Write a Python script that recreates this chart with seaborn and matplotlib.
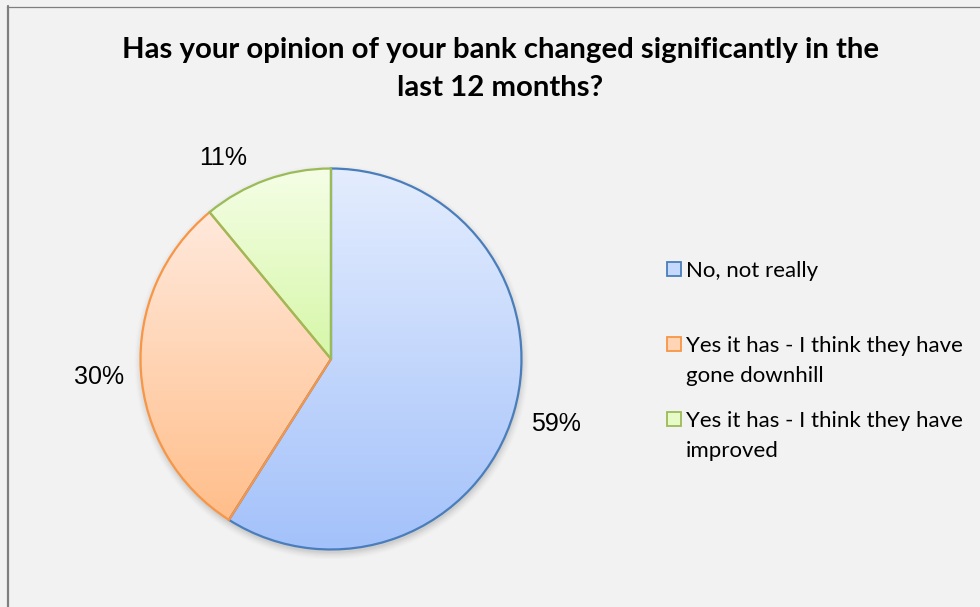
import numpy as np
import matplotlib
matplotlib.use("Agg")
import matplotlib.pyplot as plt
import seaborn as sns
from matplotlib.patches import Rectangle, Circle
from matplotlib.lines import Line2D
from matplotlib.colors import LinearSegmentedColormap

sns.set_theme(style="white")
plt.rcParams["font.family"] = ["Lato", "DejaVu Sans"]

# ---- data ----
categories = [
    "No, not really",
    "Yes it has - I think they have\ngone downhill",
    "Yes it has - I think they have\nimproved",
]
shares = [59, 30, 11]
pct_labels = ["59%", "30%", "11%"]

# ---- style ----
edge_colors = ["#4A7EBB", "#F79646", "#9BBB59"]
grad_top = ["#E4EDFE", "#FFE9DC", "#F5FEE6"]
grad_bottom = ["#A3C1FA", "#FFBE8A", "#D6F7A8"]
legend_fill = ["#C5D9FC", "#FFD5B5", "#E6FBC8"]
bg = "#F2F2F2"

W, H = 980, 607
fig = plt.figure(figsize=(W / 100, H / 100), dpi=100, facecolor=bg)


def fx(px):
    return px / W


def fy(py):
    return 1 - py / H


# chart frame (only the top and left edges fall inside the image)
fig.add_artist(Line2D([fx(7.5), fx(7.5)], [0, fy(6)], color="#7F7F7F", lw=1.6,
                      transform=fig.transFigure))
fig.add_artist(Line2D([fx(7), 1], [fy(6.5), fy(6.5)], color="#7F7F7F", lw=0.9,
                      transform=fig.transFigure))

# pie axes: centre (331, 359) px, radius ~190 px
cx, cy, side = 331, 359, 400
ax = fig.add_axes([fx(cx - side / 2), fy(cy + side / 2), side / W, side / H])
ax.set_facecolor("none")
ax.axis("off")

# soft drop shadow under the pie
for i, a in enumerate(np.linspace(0.05, 0.012, 7)):
    ax.add_patch(Circle((0.004, -0.018), 1.0 + 0.006 * i, color="#505050", alpha=a,
                        lw=0, zorder=0))

wedges, _ = ax.pie(shares, startangle=90, counterclock=False, radius=1.0,
                   colors=legend_fill,
                   wedgeprops=dict(linewidth=1.6, zorder=2))

for w, ec, top, bot in zip(wedges, edge_colors, grad_top, grad_bottom):
    w.set_edgecolor(ec)
    w.set_facecolor("none")
    w.set_zorder(3)
    # vertical gradient clipped to the wedge
    verts = w.get_patch_transform().transform(w.get_path().vertices)
    x0, x1 = verts[:, 0].min(), verts[:, 0].max()
    y0, y1 = verts[:, 1].min(), verts[:, 1].max()
    cmap = LinearSegmentedColormap.from_list("g", [bot, top])
    grad = np.linspace(0, 1, 256).reshape(-1, 1)
    im = ax.imshow(grad, cmap=cmap, origin="lower", extent=[x0, x1, y0, y1],
                   aspect="auto", zorder=2, interpolation="bilinear")
    im.set_clip_path(w)
ax.set_xlim(-1.05, 1.05)
ax.set_ylim(-1.05, 1.05)
ax.set_aspect("equal")

# percentage labels outside the wedges
angles = []
start = 90.0
for s in shares:
    span = 360.0 * s / sum(shares)
    angles.append(start - span / 2)
    start -= span
label_dist = [1.23, 1.22, 1.2]
angle_shift = [0, 0.8, 8.5]
for lab, ang, d, sh in zip(pct_labels, angles, label_dist, angle_shift):
    t = np.deg2rad(ang + sh)
    ax.text(d * np.cos(t), d * np.sin(t), lab, ha="center", va="center",
            fontsize=18, family=["Liberation Sans", "DejaVu Sans"], color="#000000")

# title
fig.text(fx(500), fy(50), "Has your opinion of your bank changed significantly in the",
         ha="center", va="center", fontsize=21.2, fontweight="bold", color="#000000")
fig.text(fx(500), fy(88), "last 12 months?",
         ha="center", va="center", fontsize=21.2, fontweight="bold", color="#000000")

# legend: square key aligned with the first line of each entry
key_tops = [262, 337, 412]
line_step = 30
for lab, top, fc, ec in zip(categories, key_tops, legend_fill, edge_colors):
    fig.add_artist(Rectangle((fx(667), fy(top + 14)), 14 / W, 14 / H,
                             facecolor=fc, edgecolor=ec, lw=1.3,
                             transform=fig.transFigure))
    for k, line in enumerate(lab.split("\n")):
        fig.text(fx(686), fy(top + 15 + k * line_step), line, ha="left",
                 va="baseline", fontsize=16, color="#000000")

fig.savefig("out.png", dpi=100, facecolor=bg)
